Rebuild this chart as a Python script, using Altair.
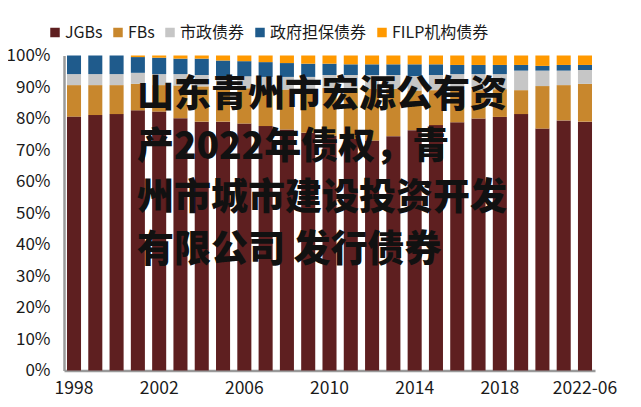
import altair as alt
import pandas as pd

periods = [str(y) for y in range(1998, 2022)] + ["2022-06"]

jgbs = [80.6, 81.1, 81.4, 82.6, 82.2, 80.1, 79.0, 79.0, 78.4, 77.6, 76.5, 75.5, 74.5,
        73.5, 73.0, 74.4, 76.3, 77.9, 78.8, 80.0, 80.5, 81.4, 76.8, 79.4, 79.0]
fbs = [10.0, 9.5, 9.2, 8.4, 8.4, 10.4, 11.2, 10.8, 11.2, 11.7, 12.7, 13.7, 15.2,
       16.1, 16.5, 15.0, 12.6, 11.1, 10.3, 9.0, 8.8, 7.6, 13.5, 11.2, 12.0]
muni = [3.5, 3.5, 3.5, 3.5, 3.5, 3.6, 3.6, 3.7, 3.8, 3.9, 4.0, 4.0, 4.1,
        4.2, 4.3, 4.4, 4.6, 4.8, 5.0, 5.1, 4.8, 6.2, 4.9, 4.6, 4.4]
govt_guar = [5.9, 5.9, 5.9, 5.0, 5.2, 4.9, 5.2, 4.9, 4.8, 4.7, 4.4, 4.2, 3.6,
             3.4, 3.4, 3.4, 3.7, 3.4, 2.9, 2.9, 2.9, 1.8, 1.5, 1.8, 1.6]
filp = [0.0, 0.0, 0.0, 0.5, 0.7, 1.0, 1.0, 1.6, 1.8, 2.1, 2.4, 2.6, 2.6,
        2.8, 2.8, 2.8, 2.8, 2.8, 3.0, 3.0, 3.0, 3.0, 3.3, 3.0, 3.0]

series_names = ["JGBs", "FBs", "市政债券", "政府担保债券", "FILP机构债券"]
colors = ["#5e1f20", "#c8872d", "#c6c6c6", "#1f5b8c", "#ff9900"]
tick_labels = ["1998", "2002", "2006", "2010", "2014", "2018", "2022-06"]
y_ticks = [0, 0.1, 0.2, 0.3, 0.4, 0.5, 0.6, 0.7, 0.8, 0.9, 1.0]
overlay_lines = ["山东青州市宏源公有资", "产2022年债权，青", "州市城市建设投资开发", "有限公司 发行债券"]

rows = []
for s_i, (name, vals) in enumerate(zip(series_names, [jgbs, fbs, muni, govt_guar, filp])):
    for p, v in zip(periods, vals):
        rows.append({"period": p, "series": name, "value": v, "order": s_i})
df = pd.DataFrame(rows)

FONT = "Noto Sans CJK SC"

bars = alt.Chart(df).mark_bar().encode(
    x=alt.X("period:N", sort=periods,
            scale=alt.Scale(paddingInner=0.34, paddingOuter=0.14),
            axis=alt.Axis(values=tick_labels, labelAngle=0, title=None, ticks=False,
                          domainColor="#9a9a9a", domainWidth=2.5, labelFontSize=17.5,
                          labelColor="#1a1a1a", labelPadding=9, labelFont=FONT)),
    y=alt.Y("value:Q", stack="normalize",
            scale=alt.Scale(domain=[0, 1], nice=False),
            axis=alt.Axis(format=".0%", values=y_ticks, grid=False, title=None, ticks=False,
                          domainColor="#9a9a9a", domainWidth=2.5, labelFontSize=17,
                          labelColor="#1a1a1a", labelPadding=14, labelFont=FONT,
                          labelBound=False, labelFlush=False, labelOverlap=False)),
    color=alt.Color("series:N", sort=series_names,
                    scale=alt.Scale(domain=series_names, range=colors),
                    legend=alt.Legend(orient="none", legendX=-17, legendY=-31,
                                      direction="horizontal", title=None,
                                      symbolType="square", symbolSize=90,
                                      symbolStrokeWidth=0, labelFontSize=16,
                                      labelFont=FONT, labelColor="#1a1a1a",
                                      labelOffset=2, columnPadding=7)),
    order=alt.Order("order:Q", sort="ascending"),
)

overlay = alt.Chart(pd.DataFrame({"k": [0]})).mark_text(
    align="left", baseline="middle", fontSize=37, fontWeight=900, font=FONT,
    lineHeight=51.5, color="#111111"
).encode(
    x=alt.value(73), y=alt.value(40.5), text=alt.value(overlay_lines)
)

chart = alt.layer(bars, overlay).properties(
    width=531, height=315,
    autosize=alt.AutoSizeParams(type="none"),
    padding={"left": 56, "top": 47.5, "right": 38, "bottom": 28},
).configure_view(stroke=None)

chart.save("out.html", embed_options={"renderer": "svg", "actions": False})
